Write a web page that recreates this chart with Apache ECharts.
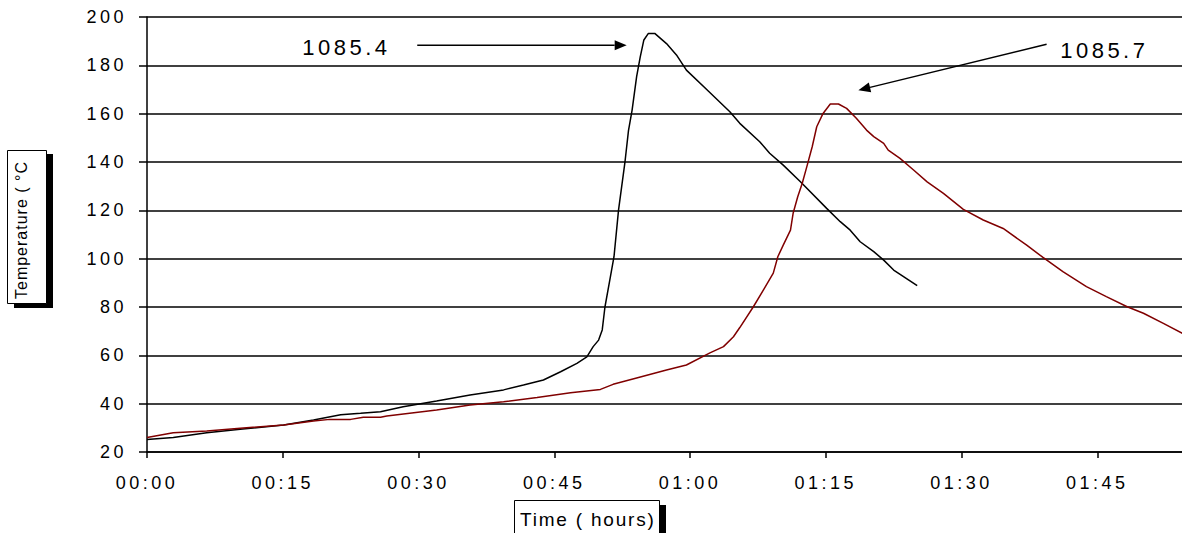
<!DOCTYPE html>
<html><head><meta charset="utf-8">
<script src="https://cdn.jsdelivr.net/npm/echarts@6/dist/echarts.min.js"></script>
<style>
html,body{margin:0;padding:0;background:#fff;}
#c{width:1182px;height:533px;}
#c text{letter-spacing:3.5px;}
#c text[style*="19px"]{letter-spacing:1.8px;}
#c text[style*="16px"]{letter-spacing:1px;}
</style></head><body><div id="c"></div>
<script>
// ---- data (time in minutes, temperature in °C) ----
const yTicks = [20, 40, 60, 80, 100, 120, 140, 160, 180, 200];
const xTickMinutes = [0, 15, 30, 45, 60, 75, 90, 105];
const xTickLabels = ['00:00', '00:15', '00:30', '00:45', '01:00', '01:15', '01:30', '01:45'];
const xMaxMinutes = 114.36;

const blackTime = [0, 2.9, 6.6, 10.3, 15.1, 18.4, 21.4, 23.6, 25.8, 28.3, 32.0, 35.7, 39.4, 41.6, 43.8, 45.7, 47.5, 48.6, 49.3, 49.9, 50.3, 50.6, 51.2, 51.6, 52.1, 52.8, 53.2, 53.6, 54.1, 54.5, 54.9, 55.4, 56.1, 57.4, 58.5, 59.6, 61.9, 64.4, 65.5, 67.7, 68.8, 70.3, 72.2, 75.1, 76.6, 77.7, 78.8, 80.3, 81.4, 82.5, 85.1];
const blackTemp = [25.2, 26.0, 28.0, 29.4, 31.2, 33.2, 35.4, 36.0, 36.7, 38.7, 41.1, 43.6, 45.7, 47.7, 49.8, 53.2, 56.7, 59.4, 63.6, 66.3, 70.5, 80.0, 92.5, 100.8, 120.1, 139.6, 153.0, 161.5, 175.3, 183.5, 190.5, 193.2, 193.2, 189.0, 184.3, 178.0, 169.8, 160.8, 156.0, 148.4, 143.6, 138.7, 131.8, 120.8, 115.3, 111.8, 107.0, 102.9, 99.4, 95.3, 88.8];

const redTime = [0, 2.9, 6.6, 10.3, 15.1, 18.4, 20.2, 22.5, 23.9, 25.8, 26.5, 32.0, 35.7, 39.4, 43.1, 46.8, 50.1, 51.5, 54.1, 57.4, 59.6, 62.2, 63.7, 64.8, 65.5, 67.0, 68.1, 69.2, 69.7, 70.3, 71.1, 71.4, 71.9, 72.4, 72.9, 73.5, 74.0, 74.7, 75.5, 76.4, 77.3, 78.4, 79.5, 80.3, 81.4, 81.9, 83.2, 84.7, 86.2, 88.0, 90.2, 92.4, 94.6, 97.2, 99.0, 101.2, 103.8, 106.0, 108.3, 110.1, 112.3, 114.4];
const redTemp = [26.0, 28.0, 28.7, 29.8, 31.2, 32.8, 33.5, 33.5, 34.4, 34.4, 34.9, 37.4, 39.4, 40.8, 42.6, 44.5, 45.9, 48.0, 50.6, 53.9, 56.0, 61.0, 63.6, 67.7, 71.5, 80.1, 87.0, 94.0, 100.8, 105.6, 111.8, 118.9, 125.6, 131.2, 138.0, 146.3, 154.6, 160.1, 164.0, 164.0, 162.2, 158.0, 153.2, 150.5, 147.7, 144.9, 141.5, 136.7, 131.8, 127.0, 120.4, 116.0, 112.5, 105.6, 100.5, 94.6, 88.4, 84.3, 80.1, 77.4, 73.2, 69.1];

const noteTexts = ['1085.4', '1085.7'];
const noteAt = [[17.15, 187.2], [100.9, 186.2]];
const arrowFrom = [[29.86, 188.3], [99.4, 188.7]];
const arrowTo = [[53.0, 188.3], [78.6, 169.7]];

const yAxisTitle = 'Temperature ( °C';
const xAxisTitle = 'Time ( hours)';

// ---- chart ----
const FONT = 'Liberation Sans, Arial, sans-serif';
const chart = echarts.init(document.getElementById('c'), null, {renderer: 'svg'});
const zip = (a, b) => a.map((t, i) => [t, b[i]]);

chart.setOption({
  animation: false,
  backgroundColor: '#fff',
  grid: {left: 147, right: 0, top: 17, bottom: 81, containLabel: false},
  xAxis: {
    type: 'value', min: 0, max: xMaxMinutes, interval: 15,
    axisLine: {show: true, lineStyle: {color: '#000', width: 1.5}},
    axisTick: {show: true, length: 6, lineStyle: {color: '#000', width: 1.5}},
    splitLine: {show: false},
    axisLabel: {
      color: '#000', fontSize: 18, fontFamily: FONT, margin: 22, showMaxLabel: false,
      formatter: v => { const i = xTickMinutes.indexOf(Math.round(v)); return i >= 0 ? xTickLabels[i] : ''; }
    }
  },
  yAxis: {
    type: 'value', min: yTicks[0], max: yTicks[yTicks.length - 1], interval: 20,
    axisLine: {show: true, lineStyle: {color: '#000', width: 1.5}},
    axisTick: {show: true, length: 8, lineStyle: {color: '#000', width: 1.5}},
    splitLine: {show: true, lineStyle: {color: '#000', width: 1.5}},
    axisLabel: {color: '#000', fontSize: 18, fontFamily: FONT, margin: 20, padding: [6, 0, 0, 0]}
  },
  series: [
    {type: 'line', data: zip(blackTime, blackTemp), showSymbol: false, symbol: 'none',
     lineStyle: {color: '#000', width: 1.5}, z: 3},
    {type: 'line', data: zip(redTime, redTemp), showSymbol: false, symbol: 'none',
     lineStyle: {color: '#800000', width: 1.5}, z: 3}
  ]
});

function px(p) { return chart.convertToPixel({gridIndex: 0}, p); }
const graphics = [];
// axis title boxes
graphics.push({type: 'rect', shape: {x: 14, y: 154, width: 39, height: 154}, style: {fill: '#000'}});
graphics.push({type: 'rect', shape: {x: 7.5, y: 150.5, width: 39, height: 153}, style: {fill: '#fff', stroke: '#000', lineWidth: 1}});
graphics.push({type: 'text', x: 21.5, y: 299, rotation: Math.PI / 2,
  style: {text: yAxisTitle, fill: '#000', fontSize: 16, fontFamily: FONT, textAlign: 'left', textVerticalAlign: 'middle'}});
graphics.push({type: 'rect', shape: {x: 520, y: 505, width: 146, height: 40}, style: {fill: '#000'}});
graphics.push({type: 'rect', shape: {x: 514.5, y: 500.5, width: 145, height: 40}, style: {fill: '#fff', stroke: '#000', lineWidth: 1}});
graphics.push({type: 'text', x: 520, y: 519,
  style: {text: xAxisTitle, fill: '#000', fontSize: 19, fontFamily: FONT, textAlign: 'left', textVerticalAlign: 'middle'}});
// annotations
noteTexts.forEach((txt, i) => {
  const p = px(noteAt[i]);
  graphics.push({type: 'text', x: p[0], y: p[1],
    style: {text: txt, fill: '#000', fontSize: 22, fontFamily: FONT, textAlign: 'left', textVerticalAlign: 'middle'}});
  const a = px(arrowFrom[i]), b = px(arrowTo[i]);
  const dx = b[0] - a[0], dy = b[1] - a[1], L = Math.hypot(dx, dy);
  const ux = dx / L, uy = dy / L, hl = 12, hw = 5;
  const bx = b[0] - ux * hl, by = b[1] - uy * hl;
  graphics.push({type: 'polyline', shape: {points: [a, [bx, by]]}, style: {stroke: '#000', lineWidth: 1.5, fill: null}});
  graphics.push({type: 'polygon', shape: {points: [b, [bx - uy * hw, by + ux * hw], [bx + uy * hw, by - ux * hw]]}, style: {fill: '#000'}});
});
chart.setOption({graphic: graphics});
</script>
</body></html>
